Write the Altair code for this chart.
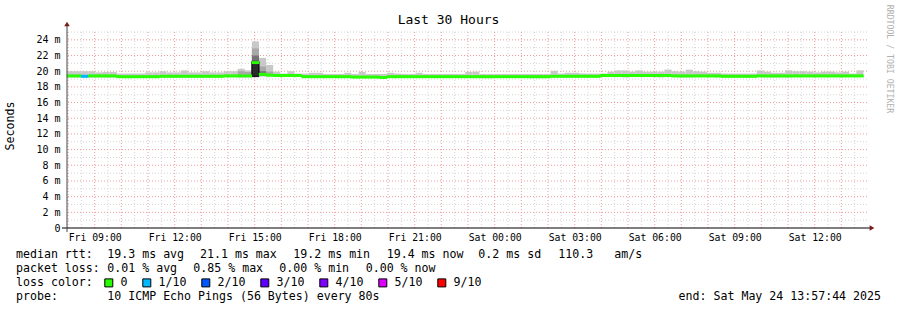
import altair as alt
import pandas as pd

# ---------------- data ----------------
START_H = 7 + 57 / 60 + 44 / 3600      # Fri 07:57:44 as hours since Fri 00:00
END_H = START_H + 30                   # Sat 13:57:44
STEP_H = 16 / 60                       # consolidation step (16 min)

median_ms = [
    19.4, 19.4, 19.35, 19.4, 19.4, 19.4, 19.4, 19.3, 19.3, 19.3,
    19.3, 19.3, 19.3, 19.35, 19.35, 19.35, 19.35, 19.35, 19.35, 19.35,
    19.35, 19.35, 19.4, 19.4, 19.4, 19.4, 21.1, 19.6, 19.5, 19.45,
    19.45, 19.45, 19.45, 19.3, 19.3, 19.3, 19.3, 19.3, 19.3, 19.3,
    19.25, 19.25, 19.25, 19.25, 19.2, 19.3, 19.3, 19.3, 19.3, 19.3,
    19.3, 19.3, 19.3, 19.3, 19.3, 19.3, 19.3, 19.3, 19.3, 19.3,
    19.3, 19.3, 19.3, 19.3, 19.3, 19.3, 19.3, 19.3, 19.35, 19.35,
    19.35, 19.35, 19.35, 19.35, 19.35, 19.45, 19.45, 19.45, 19.45, 19.45,
    19.45, 19.45, 19.45, 19.45, 19.45, 19.4, 19.4, 19.4, 19.4, 19.4,
    19.4, 19.4, 19.35, 19.35, 19.35, 19.35, 19.35, 19.4, 19.4, 19.4,
    19.4, 19.4, 19.4, 19.4, 19.4, 19.4, 19.4, 19.4, 19.4, 19.4,
    19.4, 19.4,
]

smoke_hi_ms = [
    20.0, 20.0, 20.0, 20.0, 19.85, 19.9, 19.9, 19.7, 19.7, 19.7,
    19.7, 19.85, 19.85, 20.0, 19.85, 19.85, 20.1, 19.85, 19.85, 20.0,
    19.85, 19.85, 20.0, 20.0, 20.3, 20.1, 23.8, 21.7, 20.8, 19.95,
    19.7, 20.0, 19.7, 19.7, 19.8, 19.8, 19.65, 19.65, 19.65, 19.8,
    19.65, 19.9, 19.65, 19.65, 19.65, 19.8, 19.7, 19.65, 19.65, 19.8,
    19.65, 19.65, 19.65, 19.65, 19.65, 19.65, 19.9, 19.95, 19.65, 19.65,
    19.65, 19.65, 19.65, 19.65, 19.65, 19.65, 19.65, 19.65, 20.05, 19.7,
    19.8, 19.8, 19.7, 19.7, 19.7, 19.7, 19.95, 20.1, 20.1, 19.95,
    20.1, 19.95, 19.95, 19.95, 20.2, 20.0, 19.95, 20.2, 20.0, 19.95,
    19.8, 19.8, 19.7, 19.7, 19.7, 19.7, 19.7, 20.1, 19.95, 19.8,
    19.8, 20.1, 20.0, 20.0, 19.95, 19.85, 19.95, 19.95, 19.85, 19.95,
    19.7, 20.1,
]

smoke_lo_ms = [
    19.2, 19.2, 19.2, 19.2, 19.2, 19.2, 19.2, 19.2, 19.2, 19.2,
    19.2, 19.2, 19.2, 19.2, 19.2, 19.2, 19.2, 19.2, 19.2, 19.2,
    19.2, 19.2, 19.25, 19.25, 19.2, 19.2, 19.2, 19.3, 19.3, 19.3,
    19.3, 19.3, 19.25, 19.15, 19.15, 19.2, 19.2, 19.2, 19.2, 19.2,
    19.15, 19.15, 19.15, 19.15, 19.1, 19.2, 19.15, 19.2, 19.2, 19.2,
    19.2, 19.2, 19.2, 19.2, 19.2, 19.2, 19.2, 19.2, 19.1, 19.1,
    19.2, 19.2, 19.2, 19.2, 19.2, 19.1, 19.1, 19.1, 19.2, 19.2,
    19.2, 19.2, 19.2, 19.2, 19.2, 19.25, 19.25, 19.25, 19.2, 19.25,
    19.25, 19.25, 19.25, 19.2, 19.25, 19.25, 19.2, 19.2, 19.25, 19.25,
    19.25, 19.2, 19.2, 19.2, 19.2, 19.2, 19.2, 19.25, 19.2, 19.2,
    19.2, 19.2, 19.25, 19.25, 19.25, 19.25, 19.25, 19.25, 19.25, 19.25,
    19.25, 19.25,
]

loss_cls = ["0"] * 112
loss_cls[2] = "1/10"

loss_domain = ["0", "1/10", "2/10", "3/10", "4/10", "5/10", "9/10"]
loss_colors = ["#26ff00", "#00b8ff", "#0059ff", "#5e00ff", "#7e00ff", "#dd00ff", "#ff0000"]

# darker inner smoke around the Fri 15:00 spike
spike_bin = [24, 25, 26, 26, 26, 27, 27, 28]
spike_lo = [19.3, 19.3, 19.3, 19.3, 19.35, 19.4, 19.45, 19.4]
spike_hi = [20.0, 19.9, 22.9, 22.0, 21.25, 20.6, 20.0, 19.95]
spike_level = [1, 1, 1, 2, 3, 1, 2, 1]

x_label_hours = [9, 12, 15, 18, 21, 24, 27, 30, 33, 36]
y_label_values = [0, 2, 4, 6, 8, 10, 12, 14, 16, 18, 20, 22, 24]

# ---------------- tables ----------------
n = len(median_ms)
df = pd.DataFrame({
    "t0": [START_H + k * STEP_H for k in range(n)],
    "med": median_ms,
    "hi": smoke_hi_ms,
    "lo": smoke_lo_ms,
    "loss": loss_cls,
})
df["t1"] = df["t0"] + STEP_H
df["tm"] = df["t0"] + STEP_H / 2

sp = pd.DataFrame({
    "t0": [START_H + b * STEP_H for b in spike_bin],
    "lo": spike_lo,
    "hi": spike_hi,
    "level": spike_level,
})
sp["t1"] = sp["t0"] + STEP_H

FONT = "DejaVu Sans Mono"
xs = alt.Scale(domain=[START_H, END_H], nice=False, zero=False)
ys = alt.Scale(domain=[0, 25], nice=False, zero=False)
W, H = 800, 196

x_label_expr = ("(datum.value < 24 ? 'Fri ' : 'Sat ') + (datum.value % 24 < 10 ? '0' : '') "
                "+ (datum.value % 24) + ':00'")
X_AXIS = alt.Axis(
    values=x_label_hours, labelExpr=x_label_expr, grid=False, ticks=False, domain=False,
    labelFont=FONT, labelFontSize=9.8, labelColor="black", labelPadding=4, title=None,
    labelFlush=False, labelOverlap=False)
Y_AXIS = alt.Axis(
    values=y_label_values, labelExpr="datum.value == 0 ? '0' : datum.value + ' m'",
    grid=False, ticks=False, domain=False, labelFont=FONT, labelFontSize=10,
    labelColor="black", labelPadding=7, title=None)


def X(f):
    return alt.X(f, scale=xs, axis=X_AXIS)


def Y(f):
    return alt.Y(f, scale=ys, axis=Y_AXIS)


# ---------------- grid ----------------
vgrid_minor = alt.Chart(alt.sequence(8.5, 38, 1, as_="h")).mark_rule(
    color="#d4d4d4", strokeDash=[1, 2], strokeWidth=1).encode(x=X("h:Q"))
vgrid_major = alt.Chart(alt.sequence(8, 38, 1, as_="h")).mark_rule(
    color="#f09a9a", strokeDash=[1, 2], strokeWidth=1).encode(x=X("h:Q"))
hgrid_minor = alt.Chart(alt.sequence(1, 26, 2, as_="v")).mark_rule(
    color="#d4d4d4", strokeDash=[1, 2], strokeWidth=1).encode(y=Y("v:Q"))
hgrid_major = alt.Chart(alt.sequence(2, 25, 2, as_="v")).mark_rule(
    color="#f09a9a", strokeDash=[1, 2], strokeWidth=1).encode(y=Y("v:Q"))

# ---------------- smoke ----------------
smoke = alt.Chart(df).mark_rect(color="#c8c8c8").encode(
    x=X("t0:Q"), x2="t1", y=Y("lo:Q"), y2="hi")


def spike_layer(level, fill, **kw):
    return alt.Chart(sp).transform_filter(f"datum.level == {level}").mark_rect(fill=fill, **kw).encode(
        x=X("t0:Q"), x2="t1", y=Y("lo:Q"), y2="hi")


spike1 = spike_layer(1, "#a8a8a8")
spike2 = spike_layer(2, "#747474")
spike3 = spike_layer(3, "#2a2a2a", stroke="black", strokeWidth=1)

# ---------------- median line coloured by loss ----------------
median = alt.Chart(df).mark_tick(orient="horizontal", size=7.6, thickness=3, opacity=1).encode(
    x=X("tm:Q"),
    y=Y("med:Q"),
    color=alt.Color("loss:N", scale=alt.Scale(domain=loss_domain, range=loss_colors), legend=alt.Legend(
        title="loss color:", orient="none", legendX=-51, legendY=245, direction="horizontal",
        titleOrient="left", symbolType="square", symbolSize=64, symbolStrokeColor="black",
        symbolStrokeWidth=1, symbolOpacity=1, labelFont=FONT, labelFontSize=11.6, labelColor="black",
        titleFont=FONT, titleFontSize=11.6, titleFontWeight="normal", titleColor="black",
        titlePadding=10, columnPadding=12, labelOffset=6, padding=0, rowPadding=0)),
)

# ---------------- axis lines and arrows ----------------
one = alt.Data(values=[{}])
x_line = alt.Chart(one).mark_rule(color="black", strokeWidth=1).encode(
    x=alt.value(-5), x2=alt.value(803), y=alt.value(H))
y_line = alt.Chart(one).mark_rule(color="#444444", strokeWidth=1).encode(
    x=alt.value(0), y=alt.value(H + 4), y2=alt.value(-6))
arrow_r = alt.Chart(one).mark_point(shape="triangle-right", filled=True, size=30, color="#7a1a1a", opacity=1).encode(
    x=alt.value(805), y=alt.value(H))
arrow_u = alt.Chart(one).mark_point(shape="triangle-up", filled=True, size=30, color="#7a1a1a", opacity=1).encode(
    x=alt.value(0), y=alt.value(-8))


def txt(s, x, y, size=11.6, align="left", color="black", angle=0, baseline="alphabetic"):
    return alt.Chart(one).mark_text(
        text=s, font=FONT, fontSize=size, align=align, baseline=baseline, color=color, angle=angle
    ).encode(x=alt.value(x), y=alt.value(y))


L = -51  # left column (abs x 16)
texts = [
    txt("Last 30 Hours", 381.5, -8, size=13, align="center"),
    txt("Seconds", -56, 94, angle=270, align="center", baseline="middle"),
    txt("RRDTOOL / TOBI OETIKER", 821.5, 27, size=8.2, align="center", baseline="middle",
        color="#b0b0b0", angle=90),
    txt("median rtt:", L, 226), txt("19.3 ms avg", 40.3, 226), txt("21.1 ms max", 133, 226),
    txt("19.2 ms min", 226.3, 226), txt("19.4 ms now", 319.7, 226), txt("0.2 ms sd", 411.3, 226),
    txt("110.3", 491.3, 226), txt("am/s", 547.3, 226),
    txt("packet loss:", L, 240), txt("0.01 % avg", 40.3, 240), txt("0.85 % max", 126.3, 240),
    txt("0.00 % min", 212.3, 240), txt("0.00 % now", 298.7, 240),
    txt("probe:", L, 268), txt("10 ICMP Echo Pings (56 Bytes) every 80s", 40.3, 268),
    txt("end: Sat May 24 13:57:44 2025", 814, 268, align="right"),
]

chart = alt.layer(
    vgrid_minor, hgrid_minor, vgrid_major, hgrid_major,
    smoke, spike1, spike2, spike3, median,
    x_line, y_line, arrow_r, arrow_u, *texts,
).properties(
    width=W, height=H,
    padding={"left": 67, "top": 32, "right": 30, "bottom": 82},
    autosize=alt.AutoSizeParams(type="none"),
    background="white",
).configure_view(stroke=None)

chart.save("out.html", embed_options={"renderer": "svg", "actions": False})
